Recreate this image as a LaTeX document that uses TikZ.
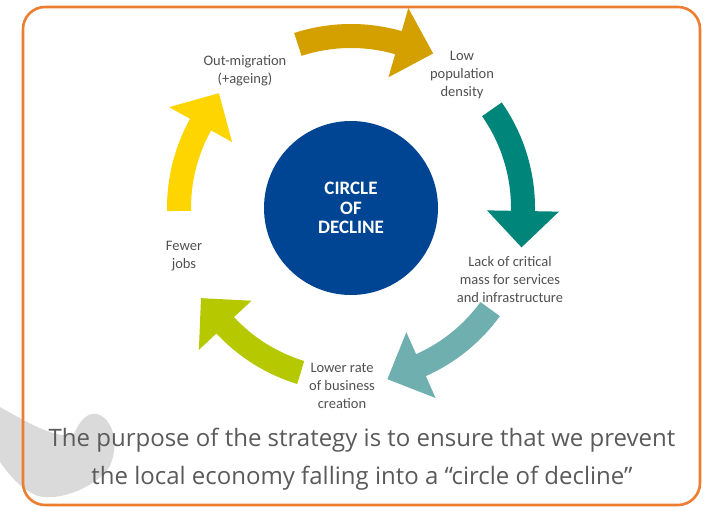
\documentclass[tikz,border=0pt]{standalone}
\usepackage{fontspec}
\usepackage{xcolor}
\usepackage{tikz}
\usetikzlibrary{positioning,calc}

\newfontfamily\labelfont{Carlito}
\newfontfamily\notefont{Open Sans}

\definecolor{frameorange}{HTML}{ED7D31}
\definecolor{euroblue}{HTML}{004494}
\definecolor{goldarrow}{HTML}{D4A000}
\definecolor{tealarrow}{HTML}{00857A}
\definecolor{paletealarrow}{HTML}{6FAFB0}
\definecolor{limearrow}{HTML}{B5C800}
\definecolor{yellowarrow}{HTML}{FFD500}
\definecolor{labelgray}{HTML}{505050}
\definecolor{notegray}{HTML}{5A5A5A}
\definecolor{swooshgray}{HTML}{DADADA}

% curved arrow on the ring: start angle, tip angle, colour
\newcommand{\ringarrow}[3]{%
  \fill[#3] (#1:184) arc[start angle=#1, end angle={#2+12}, radius=184]
    -- ({#2+12}:208) -- (#2:175) -- ({#2+12}:136) -- ({#2+12}:160)
    arc[start angle={#2+12}, end angle=#1, radius=160] -- cycle;}

\begin{document}
\begin{tikzpicture}[
    x=1pt, y=1pt,
    steplabel/.style={align=center, text=labelgray, font=\labelfont\fontsize{14.5}{18}\selectfont},
    hub/.style={circle, fill=euroblue, minimum size=174pt, inner sep=0pt, align=center,
      text=white, font=\labelfont\bfseries\fontsize{19}{19.5}\selectfont},
    note/.style={align=center, text=notegray, font=\notefont\fontsize{24}{38}\selectfont}
]
\useasboundingbox (0,0) rectangle (706,506);

% grey swoosh behind the frame
\fill[swooshgray] (0,99) .. controls (30,82) and (58,66) .. (74,72)
  .. controls (80,86) and (88,94) .. (97,92)
  .. controls (112,88) and (120,64) .. (110,40)
  .. controls (98,20) and (60,4) .. (38,10)
  .. controls (22,16) and (10,30) .. (0,44) -- cycle;

% frame
\draw[frameorange, line width=2.6pt, rounded corners=22pt] (23,1) rectangle (700,499);

% ring of arrows round the hub
\begin{scope}[shift={(351,298)}]
  \ringarrow{108}{62}{goldarrow}
  \ringarrow{35}{-13}{tealarrow}
  \ringarrow{-36}{-78}{paletealarrow}
  \ringarrow{-107}{-149}{limearrow}
  \ringarrow{181}{139}{yellowarrow}
\end{scope}

\node[hub] (hub) at (351,298) {CIRCLE\\OF\\DECLINE};

% steps of the cycle
\node[steplabel] (outmig) at (245,435) {Out-migration\\(+ageing)};
\node[steplabel] (lowpop) at (462,431) {Low\\population\\density};
\node[steplabel] (lackmass) at (510,226) {Lack of critical\\mass for services\\and infrastructure};
\node[steplabel] (lowrate) at (342,120) {Lower rate\\of business\\creation};
\node[steplabel] (fewjobs) at (184,250) {Fewer\\jobs};

% note under the diagram
\node[note] (purpose) at (362,47) {The purpose of the strategy is to ensure that we prevent\\the local economy falling into a “circle of decline”};

\end{tikzpicture}
\end{document}
